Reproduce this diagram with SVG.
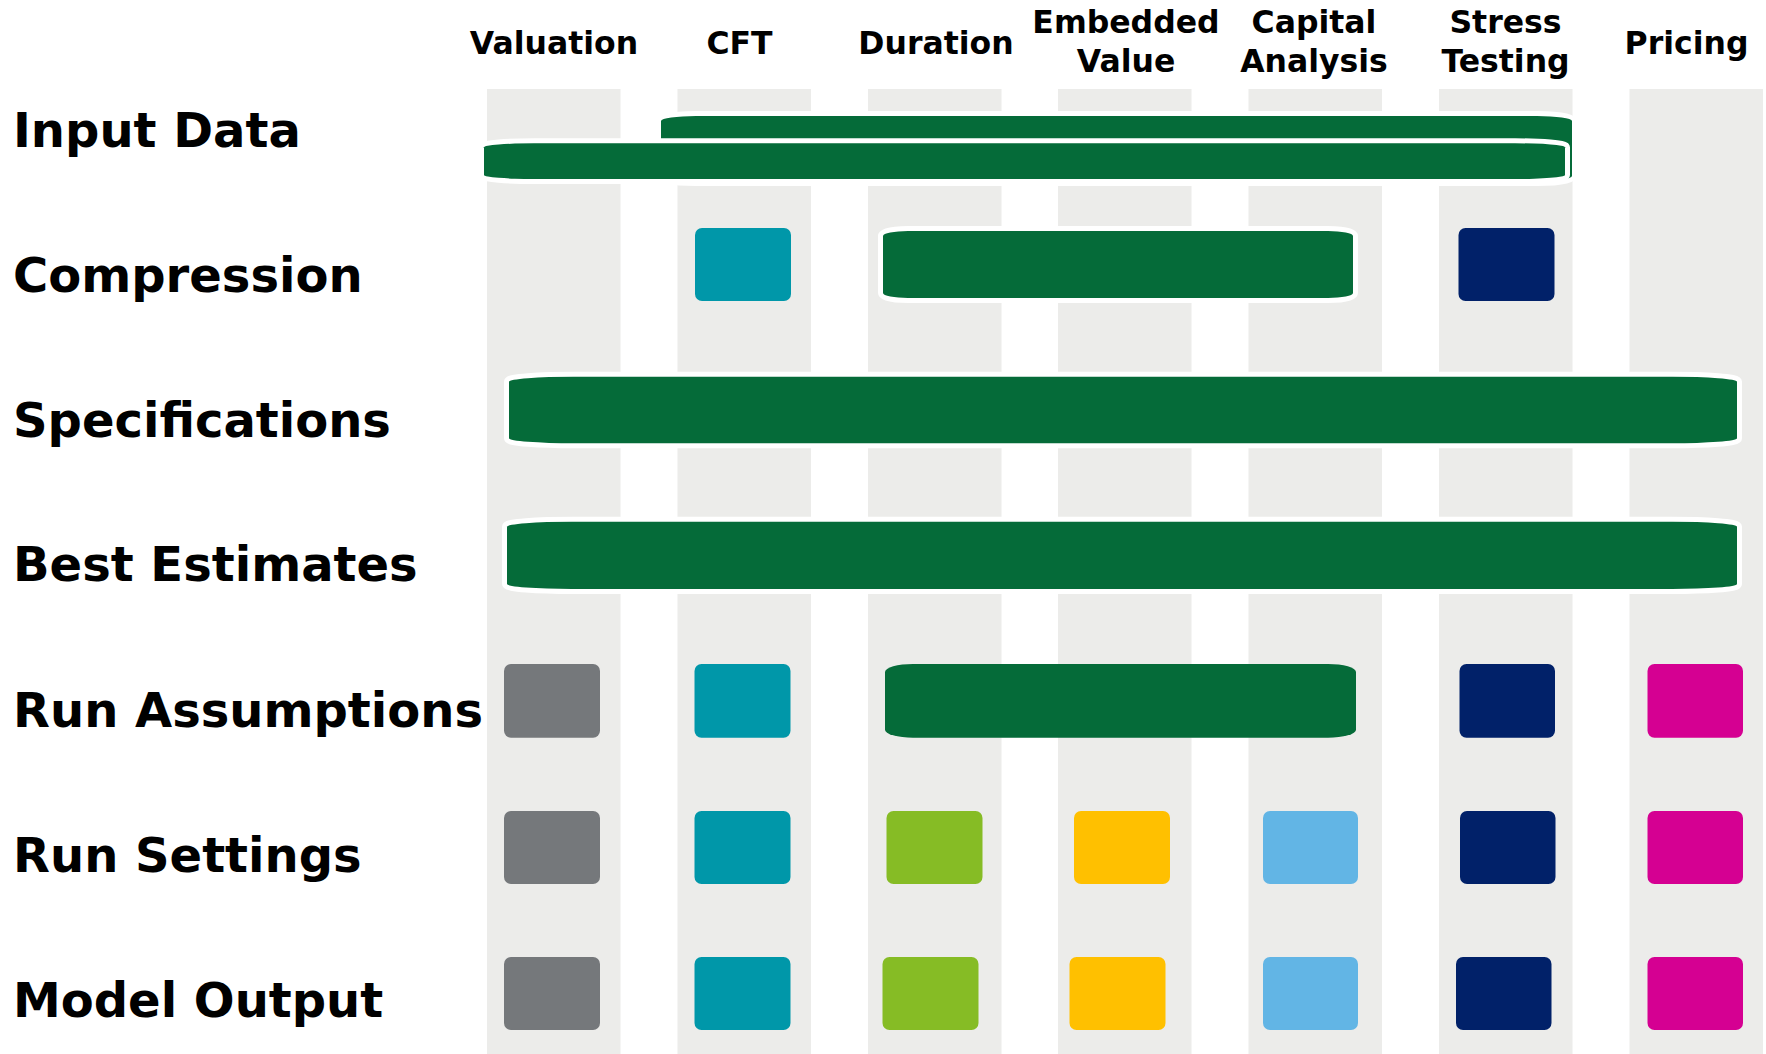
<svg xmlns="http://www.w3.org/2000/svg" width="1766" height="1054" viewBox="0 0 1766 1054">
  <style>
    .col { fill: #ECECEA; }
    .hdr { font-family: "DejaVu Sans", Verdana, sans-serif; font-weight: bold; font-size: 31.5px; fill: #000; text-anchor: middle; }
    .row { font-family: "DejaVu Sans", Verdana, sans-serif; font-weight: bold; font-size: 48px; fill: #000; }
    .bar { fill: #056B39; }
    .outl { stroke: #FFFFFF; stroke-width: 10; paint-order: stroke; }
    .gray { fill: #75787B; }
    .teal { fill: #0097A9; }
    .lime { fill: #86BC25; }
    .yel { fill: #FFC000; }
    .lblue { fill: #62B5E5; }
    .navy { fill: #012169; }
    .mag { fill: #D50092; }
  </style>
  <rect x="0" y="0" width="1766" height="1054" fill="#FFFFFF"/>

  <g id="columns">
    <rect class="col" x="487" y="89" width="133.5" height="965"/>
    <rect class="col" x="677.5" y="89" width="133.5" height="965"/>
    <rect class="col" x="868" y="89" width="133.5" height="965"/>
    <rect class="col" x="1058" y="89" width="133.5" height="965"/>
    <rect class="col" x="1248.5" y="89" width="133.5" height="965"/>
    <rect class="col" x="1439" y="89" width="133.5" height="965"/>
    <rect class="col" x="1629.5" y="89" width="133.5" height="965"/>
  </g>

  <g id="headers">
    <text class="hdr" x="554" y="54">Valuation</text>
    <text class="hdr" x="739.5" y="54">CFT</text>
    <text class="hdr" x="936" y="54">Duration</text>
    <text class="hdr" x="1126" y="33.3">Embedded</text>
    <text class="hdr" x="1126" y="71.7">Value</text>
    <text class="hdr" x="1314" y="33.3">Capital</text>
    <text class="hdr" x="1314" y="71.7">Analysis</text>
    <text class="hdr" x="1505.5" y="33.3">Stress</text>
    <text class="hdr" x="1505.5" y="71.7">Testing</text>
    <text class="hdr" x="1686.5" y="54">Pricing</text>
  </g>

  <g id="row-labels">
    <text class="row" x="13" y="147">Input Data</text>
    <text class="row" x="13" y="292">Compression</text>
    <text class="row" x="13" y="437">Specifications</text>
    <text class="row" x="13" y="581">Best Estimates</text>
    <text class="row" x="13" y="727">Run Assumptions</text>
    <text class="row" x="13" y="872">Run Settings</text>
    <text class="row" x="13" y="1017">Model Output</text>
  </g>

  <g id="input-data">
    <rect class="bar outl" x="661" y="116" width="911" height="65" rx="35" ry="5"/>
    <rect class="bar outl" x="484" y="143.3" width="1081" height="35.7" rx="50" ry="4"/>
  </g>

  <g id="compression">
    <rect class="teal" x="695" y="228" width="96" height="73" rx="7"/>
    <rect class="bar outl" x="883" y="231" width="470" height="67" rx="25" ry="5"/>
    <rect class="navy" x="1458.5" y="228" width="96" height="73" rx="7"/>
  </g>

  <g id="specifications">
    <rect class="bar outl" x="509" y="376.7" width="1228" height="66.6" rx="65" ry="5"/>
  </g>

  <g id="best-estimates">
    <rect class="bar outl" x="507" y="521.7" width="1230" height="67.3" rx="65" ry="5"/>
  </g>

  <g id="run-assumptions">
    <rect class="gray" x="504" y="664" width="96" height="73.7" rx="7"/>
    <rect class="teal" x="694.5" y="664" width="96" height="73.7" rx="7"/>
    <rect class="bar" x="885" y="664" width="471" height="73.7" rx="28" ry="8"/>
    <rect class="navy" x="1459.5" y="664" width="95.5" height="73.7" rx="7"/>
    <rect class="mag" x="1647.5" y="664" width="95.5" height="73.7" rx="7"/>
  </g>

  <g id="run-settings">
    <rect class="gray" x="504" y="811" width="96" height="73" rx="7"/>
    <rect class="teal" x="694.5" y="811" width="96" height="73" rx="7"/>
    <rect class="lime" x="886.5" y="811" width="96" height="73" rx="7"/>
    <rect class="yel" x="1074" y="811" width="96" height="73" rx="7"/>
    <rect class="lblue" x="1263" y="811" width="95" height="73" rx="7"/>
    <rect class="navy" x="1460" y="811" width="95.5" height="73" rx="7"/>
    <rect class="mag" x="1647.5" y="811" width="95.5" height="73" rx="7"/>
  </g>

  <g id="model-output">
    <rect class="gray" x="504" y="957" width="96" height="73" rx="7"/>
    <rect class="teal" x="694.5" y="957" width="96" height="73" rx="7"/>
    <rect class="lime" x="882.5" y="957" width="96" height="73" rx="7"/>
    <rect class="yel" x="1069.5" y="957" width="96" height="73" rx="7"/>
    <rect class="lblue" x="1263" y="957" width="95" height="73" rx="7"/>
    <rect class="navy" x="1456" y="957" width="95.5" height="73" rx="7"/>
    <rect class="mag" x="1647.5" y="957" width="95.5" height="73" rx="7"/>
  </g>
</svg>
